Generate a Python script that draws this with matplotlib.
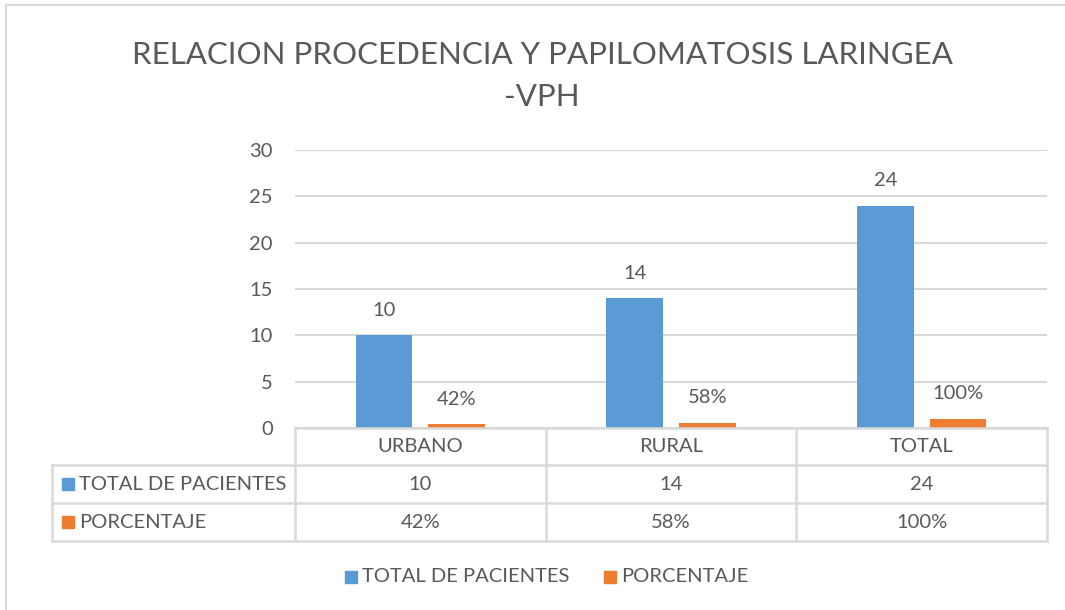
import numpy as np
import matplotlib as mpl
mpl.use('Agg')
import matplotlib.pyplot as plt
import matplotlib.transforms as mtransforms
from matplotlib.lines import Line2D
from matplotlib.patches import Rectangle

# Data
categories = ['URBANO', 'RURAL', 'TOTAL']
series_names = ['TOTAL DE PACIENTES', 'PORCENTAJE']
pacientes = [10, 14, 24]
porcentaje = [0.42, 0.58, 1.00]
pacientes_labels = ['10', '14', '24']
porcentaje_labels = ['42%', '58%', '100%']
y_ticks = [0, 5, 10, 15, 20, 25, 30]
title = 'RELACION PROCEDENCIA Y PAPILOMATOSIS LARINGEA\n-VPH'

# Style
blue = '#5B9BD5'
orange = '#ED7D31'
text_col = '#595959'
line_col = '#D9D9D9'
fs = 14.5
W, H = 1065, 610

plt.rcParams['font.family'] = ['Lato', 'DejaVu Sans']

fig = plt.figure(figsize=(W / 100.0, H / 100.0), dpi=100)

# helper: pixel position (top-left origin) to figure fraction
def px(x, y):
    return x / float(W), 1 - y / float(H)

# plot area
left, top = px(295, 150)
right, bottom = px(1047, 428)
ax = fig.add_axes([left, bottom, right - left, top - bottom])

x = np.arange(len(categories))
bw = 0.227
off = 0.145
ax.bar(x - off, pacientes, bw, color=blue, zorder=3)
ax.bar(x + off, porcentaje, bw, color=orange, zorder=3)

# data labels
for i in range(len(categories)):
    ax.annotate(pacientes_labels[i], (x[i] - off, pacientes[i]), xytext=(0, 18),
                textcoords='offset points', ha='center', va='center',
                fontsize=fs, color=text_col)
    ax.annotate(porcentaje_labels[i], (x[i] + off, porcentaje[i]), xytext=(0, 18),
                textcoords='offset points', ha='center', va='center',
                fontsize=fs, color=text_col)

ax.set_xlim(-0.5, len(categories) - 0.5)
ax.set_ylim(0, 30)
ax.set_yticks(y_ticks)
ax.set_xticks([])
ax.tick_params(axis='y', length=0, pad=16, labelsize=fs, labelcolor=text_col)
ax.grid(axis='y', color=line_col, linewidth=1.5, zorder=0)
for s in ax.spines.values():
    s.set_visible(False)

# data table below the plot area
trans = mtransforms.blended_transform_factory(ax.transData, fig.transFigure)
row_y = [428, 465, 503, 541]
fl = px(52, 0)[0]
fr = px(1047, 0)[0]
for j, yy in enumerate(row_y):
    fy = px(0, yy)[1]
    x0 = px(295, 0)[0] if j == 0 else fl
    fig.add_artist(Line2D([x0, fr], [fy, fy], color=line_col, lw=1.8))
for k in range(len(categories) + 1):
    ax.plot([k - 0.5, k - 0.5], [px(0, 428)[1], px(0, 541)[1]], transform=trans,
            color=line_col, lw=1.8, clip_on=False)
fig.add_artist(Line2D([fl, fl], [px(0, 465)[1], px(0, 541)[1]], color=line_col, lw=1.8))

for i, cat in enumerate(categories):
    ax.text(x[i], px(0, 447)[1], cat, transform=trans, ha='center', va='center',
            fontsize=fs, color=text_col)
    ax.text(x[i], px(0, 484)[1], pacientes_labels[i], transform=trans, ha='center',
            va='center', fontsize=fs, color=text_col)
    ax.text(x[i], px(0, 522)[1], porcentaje_labels[i], transform=trans, ha='center',
            va='center', fontsize=fs, color=text_col)

# series keys in the table
for name, col, yy in [(series_names[0], blue, 484), (series_names[1], orange, 522)]:
    sx, sy = px(62, yy + 6)
    fig.add_artist(Rectangle((sx, sy), 12.0 / W, 12.0 / H, color=col,
                             transform=fig.transFigure))
    tx, ty = px(79, yy)
    fig.text(tx, ty, name, ha='left', va='center', fontsize=fs, color=text_col)

# legend
for name, col, lx in [(series_names[0], blue, 345), (series_names[1], orange, 604)]:
    sx, sy = px(lx, 583)
    fig.add_artist(Rectangle((sx, sy), 12.0 / W, 12.0 / H, color=col,
                             transform=fig.transFigure))
    tx, ty = px(lx + 17, 577)
    fig.text(tx, ty, name, ha='left', va='center', fontsize=fs, color=text_col)

# title
tx, ty = px(542, 76)
fig.text(tx, ty, title, ha='center', va='center', fontsize=22.5, color=text_col,
         linespacing=1.6)

# chart border (partly cut off on right and bottom)
fig.add_artist(Line2D([px(6, 0)[0], 1], [px(0, 5)[1]] * 2, color=line_col, lw=1.5))
fig.add_artist(Line2D([px(6, 0)[0]] * 2, [px(0, 5)[1], 0], color=line_col, lw=1.5))

fig.savefig('out.png', dpi=100)
